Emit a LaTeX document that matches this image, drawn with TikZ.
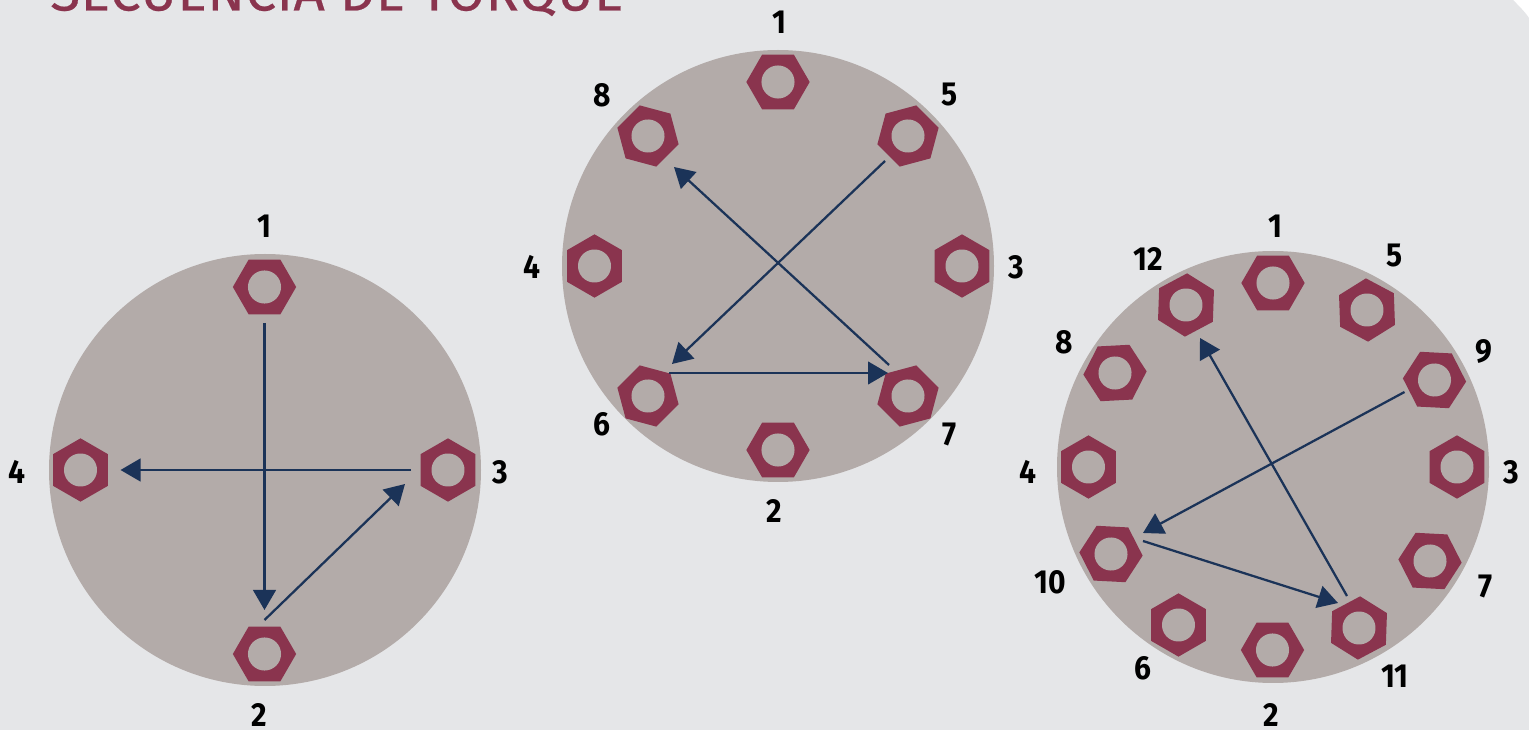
\documentclass[tikz,border=0pt]{standalone}
\usepackage{fontspec}
\usepackage{tikz}
\usetikzlibrary{arrows.meta,shapes.geometric}
\setmainfont{Fira Sans}
\newfontfamily\titlefont[LetterSpace=1.2,FakeBold=0.4]{Fira Sans}
\newfontfamily\digitfont[FakeStretch=0.9]{Fira Sans}

\definecolor{pagegray}{RGB}{229,230,232}
\definecolor{discgray}{RGB}{179,171,169}
\definecolor{boltred}{RGB}{138,52,78}
\definecolor{flowblue}{RGB}{27,51,88}

\tikzset{
  flangedisc/.style={circle,fill=discgray,inner sep=0pt,minimum size=324pt},
  boltnut/.style={regular polygon,regular polygon sides=6,fill=boltred,inner sep=0pt,outer sep=0pt,minimum size=47.5pt,
    path picture={\fill[discgray] (path picture bounding box.center) circle (12.4pt);}},
  numlabel/.style={font=\fontsize{25}{25}\selectfont\digitfont\bfseries,inner sep=0pt,text=black},
  flowarrow/.style={draw=flowblue,line width=1.7pt,-{Triangle[length=15pt,width=17pt]}}
}

\begin{document}
\begin{tikzpicture}[x=0.75pt,y=0.75pt,yscale=-1,xscale=1]
\useasboundingbox (0,0) rectangle (1529,730);
\clip (0,0) rectangle (1529,730);

%Shape: Page with cut corner
\fill [white] (0,0) rectangle (1529,730);
\fill [pagegray] (0,0) -- (1513,0) .. controls (1519,6) and (1525,12) .. (1529,18) -- (1529,730) -- (0,730) -- cycle ;

% Title
\node (title) [anchor=base west,inner sep=0pt,text=boltred,font=\fontsize{41}{41}\selectfont\titlefont] at (50,10.5) {SECUENCIA DE TORQUE};

%Shape: Circle
\node (ldisc) [flangedisc] at (265,470) {};
\node (mdisc) [flangedisc] at (778,266) {};
\node (rdisc) [flangedisc] at (1273,467) {};

%Shape: Bolts, four
\node (l1) [boltnut] at (264.5,287) {};
\node (l2) [boltnut] at (264.5,654) {};
\node (l3) [boltnut,rotate=30] at (448,470) {};
\node (l4) [boltnut,rotate=30] at (80.5,470) {};

%Shape: Bolts, eight
\node (m1) [boltnut] at (778,82) {};
\node (m2) [boltnut] at (778,450) {};
\node (m3) [boltnut,rotate=30] at (962,266) {};
\node (m4) [boltnut,rotate=30] at (594.5,266) {};
\node (m5) [boltnut,rotate=15] at (908,136) {};
\node (m6) [boltnut,rotate=-15] at (648,396) {};
\node (m7) [boltnut,rotate=15] at (908,396) {};
\node (m8) [boltnut,rotate=-15] at (648,136) {};

%Shape: Bolts, twelve
\node (r1) [boltnut] at (1273,283) {};
\node (r2) [boltnut] at (1272.5,650) {};
\node (r3) [boltnut,rotate=30] at (1457,467) {};
\node (r4) [boltnut,rotate=30] at (1088.5,467) {};
\node (r5) [boltnut,rotate=-28] at (1367,310) {};
\node (r6) [boltnut,rotate=30] at (1178.5,625) {};
\node (r7) [boltnut,rotate=-3] at (1430,561) {};
\node (r8) [boltnut,rotate=3] at (1115,373) {};
\node (r9) [boltnut,rotate=-3] at (1434.5,380) {};
\node (r10) [boltnut,rotate=-3] at (1111,554) {};
\node (r11) [boltnut,rotate=28] at (1359,628) {};
\node (r12) [boltnut,rotate=28] at (1186,305) {};

%Straight Lines
\draw [flowarrow] ([shift={(0,36)}]l1.center) -- ([shift={(0,-44)}]l2.center) ;
\draw [flowarrow] ([shift={(0,-34)}]l2.center) -- ([shift={(-43,14)}]l3.center) ;
\draw [flowarrow] ([shift={(-37,0)}]l3.center) -- ([shift={(40,0)}]l4.center) ;
\draw [flowarrow] ([shift={(-23,25)}]m5.center) -- ([shift={(24,-32)}]m6.center) ;
\draw [flowarrow] ([shift={(21,-23)}]m6.center) -- ([shift={(-20,-23)}]m7.center) ;
\draw [flowarrow] ([shift={(-19,-31)}]m7.center) -- ([shift={(26,31)}]m8.center) ;
\draw [flowarrow] ([shift={(-30,12)}]r9.center) -- ([shift={(32,-21)}]r10.center) ;
\draw [flowarrow] ([shift={(32,-13)}]r10.center) -- ([shift={(-21,-25)}]r11.center) ;
\draw [flowarrow] ([shift={(-12,-32)}]r11.center) -- ([shift={(14,33)}]r12.center) ;

% Text Node
\node (l1txt) [numlabel] at (264.5,226) {1};
\node (l2txt) [numlabel] at (259.5,715) {2};
\node (l3txt) [numlabel] at (500,472) {3};
\node (l4txt) [numlabel] at (17,472) {4};
% Text Node
\node (m1txt) [numlabel] at (779.5,22) {1};
\node (m2txt) [numlabel] at (774,511) {2};
\node (m3txt) [numlabel] at (1016,267) {3};
\node (m4txt) [numlabel] at (532,267) {4};
\node (m5txt) [numlabel] at (950,95) {5};
\node (m6txt) [numlabel] at (602,424) {6};
\node (m7txt) [numlabel] at (950,435) {7};
\node (m8txt) [numlabel] at (602,95) {8};
% Text Node
\node (r1txt) [numlabel] at (1275.5,226) {1};
\node (r2txt) [numlabel] at (1271,715) {2};
\node (r3txt) [numlabel] at (1511,472) {3};
\node (r4txt) [numlabel] at (1028,472) {4};
\node (r5txt) [numlabel] at (1395,256) {5};
\node (r6txt) [numlabel] at (1143,668) {6};
\node (r7txt) [numlabel] at (1486,587) {7};
\node (r8txt) [numlabel] at (1064,342) {8};
\node (r9txt) [numlabel] at (1484,351) {9};
\node (r10txt) [numlabel] at (1050,582) {10};
\node (r11txt) [numlabel] at (1395,676) {11};
\node (r12txt) [numlabel] at (1148,259) {12};

\end{tikzpicture}
\end{document}
